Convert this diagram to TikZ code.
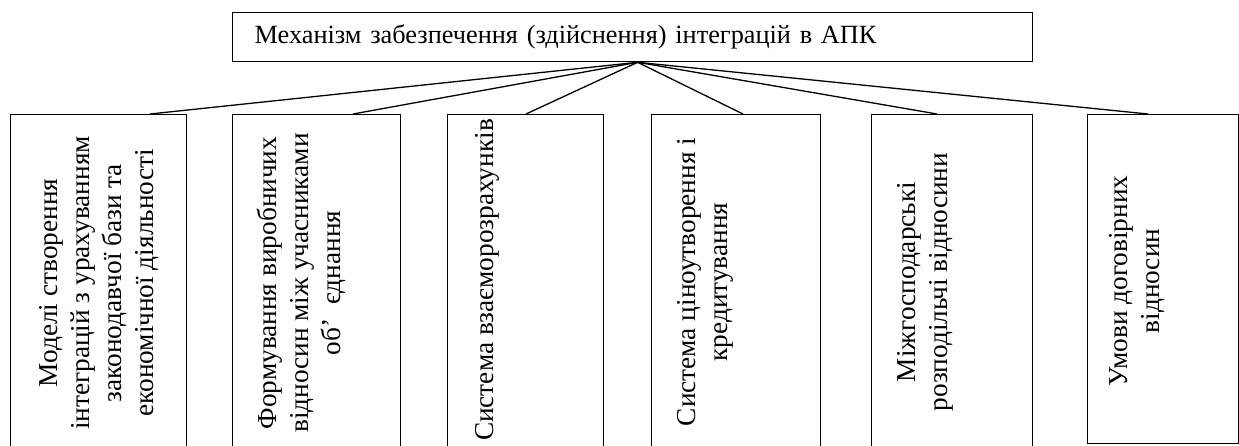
\documentclass[tikz,border=0pt]{standalone}
\usepackage{fontspec}
\setmainfont{Liberation Serif}
\usetikzlibrary{positioning,calc}
\tikzset{
        % Top box
        node_mech/.style={rectangle, draw=black, line width=1.3pt, text width=756pt, inner xsep=22pt, inner ysep=4pt, minimum height=49pt, align=left, font=\fontsize{26.3}{31}\selectfont},
        % Lower boxes
        node_part/.style={rectangle, draw=black, line width=1.3pt, anchor=north west, minimum height=346pt},
        % Rotated labels
        node_label/.style={rotate=90, align=center, inner sep=0pt, font=\fontsize{27.3}{32}\selectfont},
        % Connectors
        link/.style={line width=1.3pt}
}
\begin{document}
\begin{tikzpicture}[x=1pt, y=-1pt]
        \useasboundingbox (0,0) rectangle (1239,445);
        \clip (0,0) rectangle (1239,445);
        \node[node_mech, anchor=north west] (mech) at (232,12) {Механізм забезпечення (здійснення) інтеграцій в АПК};
        \coordinate (hub) at ([xshift=5pt]mech.south);
        % Six parts
        \node[node_part, minimum width=176pt] (models) at (10,114) {};
        \node[node_part, minimum width=168pt] (forming) at (232,114) {};
        \node[node_part, minimum width=156pt] (settle) at (447,114) {};
        \node[node_part, minimum width=169pt] (pricing) at (651,114) {};
        \node[node_part, minimum width=161pt] (distrib) at (871,114) {};
        \node[node_part, minimum width=151pt, minimum height=329pt] (terms) at (1087,114) {};
        \node[node_label] (models_txt) at (99,283) {Моделі створення\\інтеграцій з урахуванням\\законодавчої бази та\\економічної діяльності};
        \node[node_label] (forming_txt) at (301,283) {Формування виробничих\\відносин між учасниками\\об’\ \ єднання};
        \node[node_label] (settle_txt) at (487,280) {Система взаєморозрахунків};
        \node[node_label] (pricing_txt) at (705,282) {Система ціноутворення і\\кредитування};
        \node[node_label] (distrib_txt) at (925,282) {Міжгосподарські\\розподільчі відносини};
        \node[node_label] (terms_txt) at (1137,281) {Умови договірних\\відносин};
        % Connectors
        \foreach \part/\off in {models/140, forming/121, settle/79, pricing/92, distrib/66, terms/61}
            \draw[link] (hub) -- ([xshift=\off pt]\part.north west);
\end{tikzpicture}
\end{document}
